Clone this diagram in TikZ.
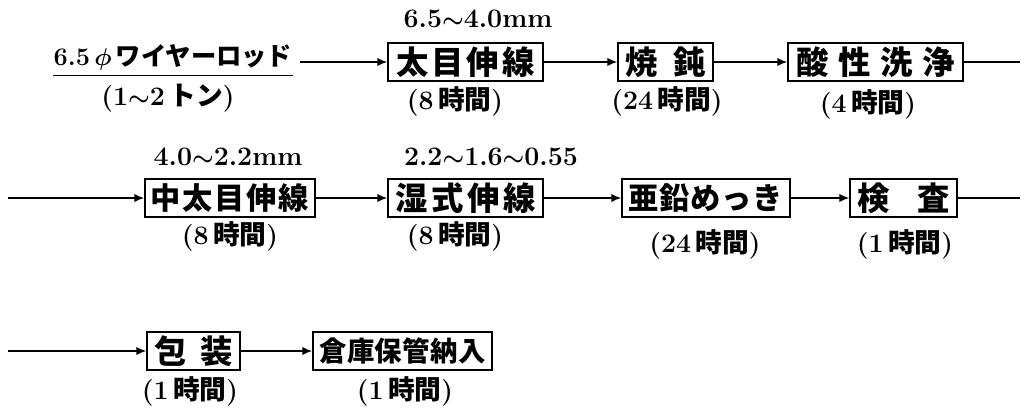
\documentclass[tikz,border=0pt]{standalone}
\usepackage{fontspec}
\newfontfamily\jp{Noto Sans CJK JP}
\usetikzlibrary{arrows.meta}
\newcommand\J[1]{{\jp #1}}
\newcommand\Sp[2]{\makebox[#1][s]{#2}}
\tikzset{
  proc/.style={draw, line width=1.2pt, minimum height=0.95cm, inner sep=0pt,
    font=\jp\bfseries\fontsize{23}{25}\selectfont},
  narrowtext/.style={font=\jp\bfseries\fontsize{21.5}{23}\selectfont},
  flow/.style={line width=1.1pt, -{Latex[length=7pt,width=6pt]}},
  plainline/.style={line width=1.1pt},
  lbl/.style={font=\bfseries\boldmath\fontsize{19}{21}\selectfont, inner sep=0pt},
  toplbl/.style={font=\bfseries\boldmath\fontsize{19}{21}\selectfont, inner sep=0pt},
}
\begin{document}
\begin{tikzpicture}[x=0.025cm,y=-0.025cm]
\useasboundingbox (0,0) rectangle (1024,415);
% row 1
\node[toplbl, font=\bfseries\boldmath\fontsize{18}{20}\selectfont] (src) at (173,57) {6.5\,$\phi$\,\J{ワイヤーロッド}};
\draw[line width=1pt] ([yshift=-4pt]src.south west) -- ([yshift=-4pt]src.south east);
\node[lbl] (srcw) at (168,98) {(1$\sim$2\,\J{トン})};
\coordinate (s1) at (300,62);
\node[proc, minimum width=3.875cm] (b1) at (465.5,62) {\Sp{3.45cm}{太\hfill 目\hfill 伸\hfill 線}};
\node[proc, minimum width=2.375cm] (b2) at (665.5,62) {\Sp{2.0cm}{焼\hfill 鈍}};
\node[proc, minimum width=4.375cm] (b3) at (875.5,62) {\Sp{3.95cm}{酸\hfill 性\hfill 洗\hfill 浄}};
\coordinate (e1) at (1020,62);
\node[toplbl] (d1) at (478,19) {6.5$\sim$4.0mm};
\node[lbl] (t1) at (455,101) {(8\,\J{時間})};
\node[lbl] (t2) at (667,101) {(24\,\J{時間})};
\node[lbl] (t3) at (868,104) {(4\,\J{時間})};
\draw[flow] (s1) -- (b1);
\draw[flow] (b1) -- (b2);
\draw[flow] (b2) -- (b3);
\draw[plainline] (b3) -- (e1);
% row 2
\coordinate (s2) at (8,198);
\node[proc, narrowtext, minimum width=4.25cm] (b4) at (230,198) {\Sp{3.95cm}{中\hfill 太\hfill 目\hfill 伸\hfill 線}};
\node[proc, minimum width=3.875cm] (b5) at (465.5,198) {\Sp{3.5cm}{湿\hfill 式\hfill 伸\hfill 線}};
\node[proc, narrowtext, minimum width=4.2cm] (b6) at (706,198) {\Sp{3.85cm}{亜\hfill 鉛\hfill め\hfill っ\hfill き}};
\node[proc, minimum width=2.675cm] (b7) at (903.5,198) {\Sp{2.3cm}{検\hfill 査}};
\coordinate (e2) at (1020,198);
\node[toplbl] (d2) at (228,157) {4.0$\sim$2.2mm};
\node[toplbl] (d3) at (491,157) {2.2$\sim$1.6$\sim$0.55};
\node[lbl] (t4) at (230,236) {(8\,\J{時間})};
\node[lbl] (t5) at (455,236) {(8\,\J{時間})};
\node[lbl] (t6) at (705,244) {(24\,\J{時間})};
\node[lbl] (t7) at (905,244) {(1\,\J{時間})};
\draw[flow] (s2) -- (b4);
\draw[flow] (b4) -- (b5);
\draw[flow] (b5) -- (b6);
\draw[flow] (b6) -- (b7);
\draw[plainline] (b7) -- (e2);
% row 3
\coordinate (s3) at (8,351);
\node[proc, minimum width=2.325cm] (b8) at (193.5,351) {\Sp{1.95cm}{包\hfill 装}};
\node[proc, minimum width=4.475cm, font=\jp\bfseries\fontsize{19.5}{21}\selectfont] (b9) at (402.5,351) {\Sp{4.15cm}{倉\hfill 庫\hfill 保\hfill 管\hfill 納\hfill 入}};
\node[lbl] (t8) at (190,391) {(1\,\J{時間})};
\node[lbl] (t9) at (405,391) {(1\,\J{時間})};
\draw[flow] (s3) -- (b8);
\draw[flow] (b8) -- (b9);
\end{tikzpicture}
\end{document}
